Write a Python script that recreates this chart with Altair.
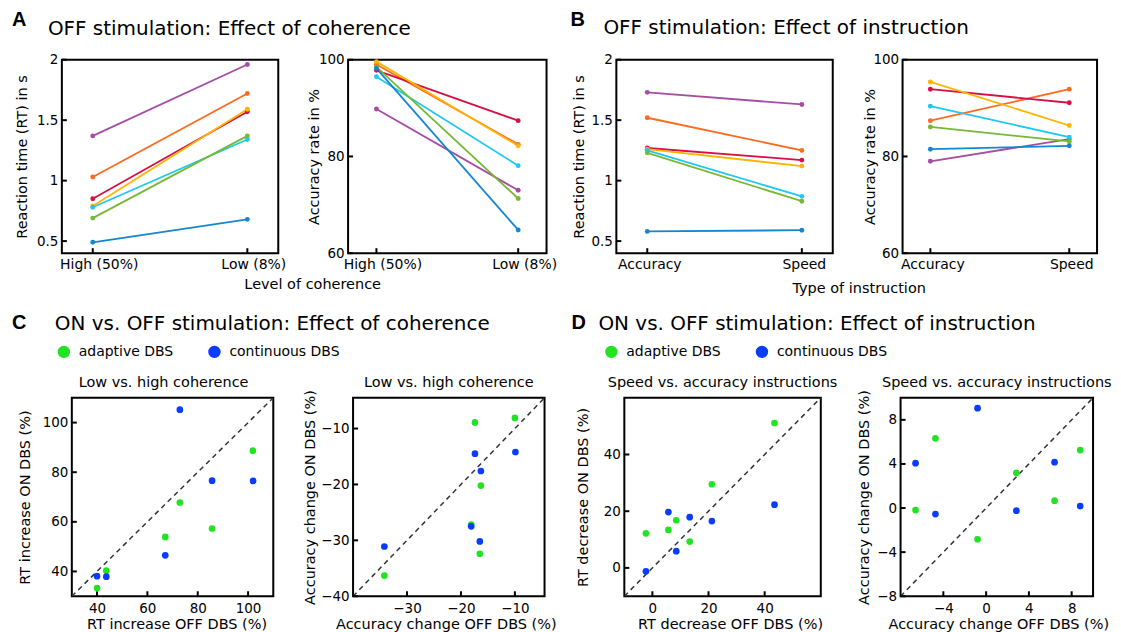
import altair as alt
import pandas as pd

FONT = "DejaVu Sans"
LETTER_FONT = "Liberation Sans"

# ---------------- data ----------------
patients = ["P1", "P2", "P3", "P4", "P5", "P6", "P7"]
patient_colors = ["#a64ca6", "#ff6a1f", "#d60f45", "#ffb400", "#1fc8f2", "#77b835", "#1487d1"]

coherence_levels = ["High (50%)", "Low (8%)"]
instruction_levels = ["Accuracy", "Speed"]

# A: OFF stimulation, effect of coherence
rt_high_coh = [1.37, 1.03, 0.85, 0.79, 0.78, 0.69, 0.49]
rt_low_coh = [1.96, 1.72, 1.57, 1.59, 1.34, 1.37, 0.68]
acc_high_coh = [89.8, 99.0, 97.8, 99.6, 96.5, 98.5, 98.2]
acc_low_coh = [73.0, 82.5, 87.4, 82.2, 78.1, 71.3, 64.8]

# B: OFF stimulation, effect of instruction
rt_acc_instr = [1.73, 1.52, 1.27, 1.26, 1.25, 1.23, 0.58]
rt_speed_instr = [1.63, 1.25, 1.17, 1.12, 0.87, 0.83, 0.59]
acc_acc_instr = [79.0, 87.4, 93.9, 95.4, 90.4, 86.1, 81.5]
acc_speed_instr = [83.6, 93.9, 91.1, 86.4, 84.0, 83.1, 82.2]

groups = ["adaptive DBS", "continuous DBS"]
group_colors = ["#22e322", "#0a3cff"]
point_groups = ["adaptive DBS"] * 6 + ["continuous DBS"] * 6

# C: ON vs OFF, coherence
c_rt_off = [101.9, 72.9, 67.1, 85.7, 43.7, 40.0, 72.9, 85.7, 102.0, 67.1, 40.0, 43.7]
c_rt_on = [88.7, 67.8, 53.9, 57.3, 40.3, 33.3, 105.2, 76.6, 76.5, 46.5, 38.1, 37.9]
c_acc_off = [-17.4, -10.0, -16.3, -18.1, -16.5, -34.2, -17.4, -9.9, -16.3, -18.1, -16.5, -34.2]
c_acc_on = [-8.9, -8.1, -20.2, -27.2, -32.4, -36.3, -14.5, -14.2, -17.6, -27.5, -30.2, -31.1]

# D: ON vs OFF, instruction
d_rt_off = [43.5, 21.2, 8.5, 5.7, -2.3, 13.3, 43.5, 5.7, 13.3, 21.2, 8.5, -2.3]
d_rt_on = [51.1, 29.5, 16.8, 13.4, 12.2, 9.3, 22.3, 19.7, 17.9, 16.5, 5.9, -1.2]
d_acc_off = [-4.74, 8.8, 2.83, 6.4, -6.6, -0.8, -0.8, -6.6, 6.4, 8.8, -4.74, 2.83]
d_acc_on = [6.32, 5.26, 3.19, 0.67, -0.18, -2.83, 9.06, 4.07, 4.16, 0.18, -0.55, -0.24]

NUMFMT = ".2~f"
TICK_LEN = 5


# ---------------- helpers ----------------
def text_mark(text, x, y, size, weight="normal", font=FONT, align="left"):
    return alt.Chart(pd.DataFrame({"label": [text]})).mark_text(
        align=align, baseline="alphabetic", font=font, fontSize=size,
        fontWeight=weight, color="black"
    ).encode(x=alt.value(x), y=alt.value(y), text="label:N")


def y_ticks(field, values, yenc):
    # short inward tick marks on the left frame edge
    return alt.Chart(pd.DataFrame({field: values})).mark_rule(
        color="black", strokeWidth=2).encode(
        y=yenc, x=alt.value(0), x2=alt.value(TICK_LEN))


def x_ticks(field, values, xenc, height):
    # short inward tick marks on the bottom frame edge
    return alt.Chart(pd.DataFrame({field: values})).mark_rule(
        color="black", strokeWidth=2).encode(
        x=xenc, y=alt.value(height), y2=alt.value(height - TICK_LEN))


def line_panel(levels, first, second, domain, ticks, ytitle, width, height,
               ytitle_x, xtitle=None, xtitle_x=0, xtitle_y=0, label_dx=0, annotations=()):
    df = pd.DataFrame({
        "patient": patients + patients,
        "level": [levels[0]] * len(patients) + [levels[1]] * len(patients),
        "value": first + second,
    })
    xaxis = dict(labelAngle=0, ticks=False, labelPadding=4, labelFontSize=14,
                 labelOffset=label_dx)
    if xtitle:
        xaxis.update(title=xtitle, titleX=xtitle_x, titleY=xtitle_y,
                     titleAlign="center", titleBaseline="alphabetic")
    else:
        xaxis.update(title=None)
    xenc = alt.X("level:N", sort=levels,
                 scale=alt.Scale(type="point", padding=0.2),
                 axis=alt.Axis(**xaxis))
    yenc = alt.Y("value:Q",
                 scale=alt.Scale(domain=domain, nice=False, zero=False),
                 axis=alt.Axis(values=ticks, format=NUMFMT, title=ytitle,
                               ticks=False, labelPadding=4,
                               titleX=ytitle_x, titleY=height / 2,
                               titleAlign="center", titleBaseline="middle"))
    base = alt.Chart(df).encode(
        x=xenc, y=yenc,
        color=alt.Color("patient:N",
                        scale=alt.Scale(domain=patients, range=patient_colors),
                        legend=None),
    )
    layers = [base.mark_line(strokeWidth=1.8), base.mark_circle(size=24, opacity=1),
              y_ticks("value", ticks, yenc), x_ticks("level", levels, xenc, height)]
    layers += list(annotations)
    return alt.layer(*layers).properties(width=width, height=height)


def scatter_panel(off, on, domain, xticks, yticks, title, xtitle, ytitle,
                  width, height, ytitle_x, xtitle_x, legend=None, annotations=(),
                  title_dx=0):
    df = pd.DataFrame({"off": off, "on": on, "group": point_groups})
    diag = pd.DataFrame({"off": list(domain), "on": list(domain)})
    xenc = alt.X("off:Q", scale=alt.Scale(domain=list(domain), nice=False, zero=False),
                 axis=alt.Axis(values=xticks, format=NUMFMT, title=xtitle, ticks=False,
                               labelPadding=5, titleX=xtitle_x, titleY=32,
                               titleAlign="center", titleBaseline="alphabetic"))
    yenc = alt.Y("on:Q", scale=alt.Scale(domain=list(domain), nice=False, zero=False),
                 axis=alt.Axis(values=yticks, format=NUMFMT, title=ytitle, ticks=False,
                               labelPadding=4, titleX=ytitle_x, titleY=height / 2,
                               titleAlign="center", titleBaseline="middle"))
    diag_line = alt.Chart(diag).mark_line(
        strokeDash=[5, 4], strokeWidth=1.5, color="#333333", clip=True
    ).encode(x=xenc, y=yenc)
    pts = alt.Chart(df).mark_circle(size=45, opacity=1).encode(
        x="off:Q", y="on:Q",
        color=alt.Color("group:N", scale=alt.Scale(domain=groups, range=group_colors),
                        legend=legend),
    )
    sub = text_mark(title, width / 2 + title_dx, -11, 14.5, align="center")
    return alt.layer(
        diag_line, y_ticks("on", yticks, yenc), x_ticks("off", xticks, xenc, height),
        pts, sub, *annotations
    ).properties(width=width, height=height)


def make_legend(lx, ly):
    return alt.Legend(
        title=None, orient="none", legendX=lx, legendY=ly, direction="horizontal",
        symbolType="circle", symbolSize=154, symbolStrokeWidth=0,
        labelFont=FONT, labelFontSize=14, labelColor="black",
        labelOffset=8, columnPadding=34,
    )


def spacer(w):
    return alt.Chart(pd.DataFrame({"v": [0]})).mark_point(opacity=0, size=1).encode(
        x=alt.X("v:Q", axis=None), y=alt.Y("v:Q", axis=None)
    ).properties(width=w, height=1, view=alt.ViewBackground(strokeOpacity=0))


# ---------------- panels ----------------
H1 = 194
A1 = line_panel(coherence_levels, rt_high_coh, rt_low_coh, [0.4, 2.0], [0.5, 1, 1.5, 2],
                "Reaction time (RT) in s", 217, H1, -39,
                xtitle="Level of coherence", xtitle_x=251, xtitle_y=35, label_dx=6,
                annotations=[text_mark("A", -50, -34, 20, "bold", LETTER_FONT),
                             text_mark("OFF stimulation: Effect of coherence", -14, -25, 20)])
A2 = line_panel(coherence_levels, acc_high_coh, acc_low_coh, [60, 100], [60, 80, 100],
                "Accuracy rate in %", 199, H1, -34, label_dx=6)
B1 = line_panel(instruction_levels, rt_acc_instr, rt_speed_instr, [0.4, 2.0], [0.5, 1, 1.5, 2],
                "Reaction time (RT) in s", 217, H1, -37,
                xtitle="Type of instruction", xtitle_x=243, xtitle_y=39, label_dx=2,
                annotations=[text_mark("B", -46, -34, 20, "bold", LETTER_FONT),
                             text_mark("OFF stimulation: Effect of instruction", -13, -26, 20)])
B2 = line_panel(instruction_levels, acc_acc_instr, acc_speed_instr, [60, 100], [60, 80, 100],
                "Accuracy rate in %", 195, H1, -32, label_dx=2)

H2 = 199
C1 = scatter_panel(c_rt_off, c_rt_on, (30, 110), [40, 60, 80, 100], [40, 60, 80, 100],
                   "Low vs. high coherence", "RT increase OFF DBS (%)", "RT increase ON DBS (%)",
                   202, H2, -46, 105, legend=make_legend(-15, -53), title_dx=-9,
                   annotations=[text_mark("C", -60, -69, 20, "bold", LETTER_FONT),
                                text_mark("ON vs. OFF stimulation: Effect of coherence", -17, -68, 20)])
C2 = scatter_panel(c_acc_off, c_acc_on, (-40, -4.5), [-30, -20, -10], [-40, -30, -20, -10],
                   "Low vs. high coherence", "Accuracy change OFF DBS (%)",
                   "Accuracy change ON DBS (%)", 192, H2, -43, 93)
D1 = scatter_panel(d_rt_off, d_rt_on, (-10, 60), [0, 20, 40], [0, 20, 40],
                   "Speed vs. accuracy instructions", "RT decrease OFF DBS (%)",
                   "RT decrease ON DBS (%)", 197, H2, -41, 106, legend=make_legend(-20, -53),
                   annotations=[text_mark("D", -53, -69, 20, "bold", LETTER_FONT),
                                text_mark("ON vs. OFF stimulation: Effect of instruction", -26, -68, 20)])
D2 = scatter_panel(d_acc_off, d_acc_on, (-8, 10), [-4, 0, 4, 8], [-8, -4, 0, 4, 8],
                   "Speed vs. accuracy instructions", "Accuracy change OFF DBS (%)",
                   "Accuracy change ON DBS (%)", 193, H2, -36, 98)


def row(charts, spacing):
    return alt.hconcat(*charts, spacing=spacing, bounds="flush").resolve_scale(
        color="independent").resolve_legend(color="independent")


# leading 1px spacers: A1 sits 71px and C1 81px from the shared left origin
row1 = row([spacer(1), A1, A2, B1, B2], 70)
row2 = row([spacer(1), C1, C2, D1, D2], 80)

chart = alt.vconcat(row1, row2, spacing=16).resolve_scale(
    color="independent").resolve_legend(color="independent").properties(
    padding={"left": -17, "top": 0, "right": 0, "bottom": 0},
    background="white",
).configure_view(
    stroke="black", strokeWidth=2
).configure_axis(
    labelFont=FONT, titleFont=FONT, labelFontSize=13.5, titleFontSize=14.5,
    labelColor="black", titleColor="black", titleFontWeight="normal",
    grid=False, domain=False,
)

chart.save("out.html", embed_options={"renderer": "svg", "actions": False})
